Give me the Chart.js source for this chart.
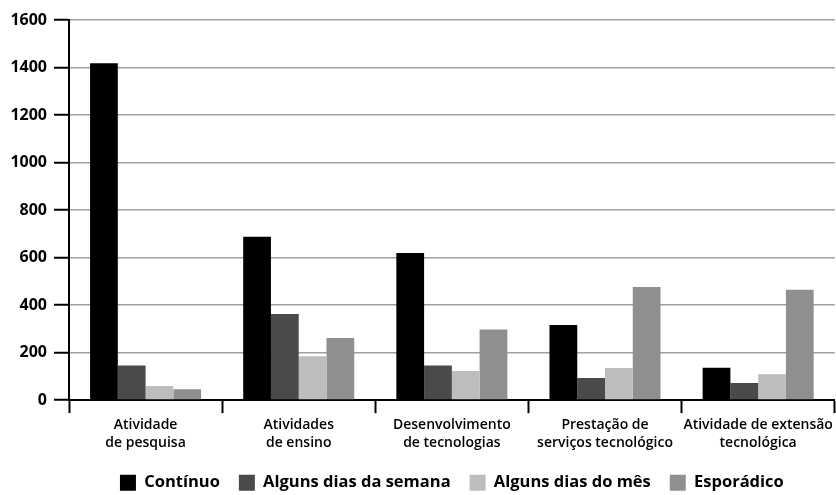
<!DOCTYPE html>
<html>
<head>
<meta charset="utf-8">
<script src="https://cdn.jsdelivr.net/npm/chart.js@4/dist/chart.umd.min.js"></script>
<style>
    html, body { margin: 0; padding: 0; background: #fff; }
    #box { width: 836px; height: 495px; }
</style>
</head>
<body>
<div id="box"><canvas id="bar_chart"></canvas></div>
<script>
var categorias = [
    ["Atividade", "de pesquisa"],
    ["Atividades", "de ensino"],
    ["Desenvolvimento", "de tecnologias"],
    ["Prestação de", "serviços tecnológico"],
    ["Atividade de extensão", "tecnológica"]
];
var continuo = [1418, 688, 619, 316, 136];
var diasSemana = [146, 362, 146, 93, 72];
var diasMes = [59, 185, 123, 135, 109];
var esporadico = [46, 261, 297, 476, 465];
var yTicks = [0, 200, 400, 600, 800, 1000, 1200, 1400, 1600];

function getChartJs() {
    var config = {
        type: 'bar',
        data: {
            labels: categorias,
            datasets: [{
                label: "Contínuo",
                data: continuo,
                backgroundColor: '#000000'
            }, {
                label: "Alguns dias da semana",
                data: diasSemana,
                backgroundColor: '#4a4a4a'
            }, {
                label: "Alguns dias do mês",
                data: diasMes,
                backgroundColor: '#bdbdbd'
            }, {
                label: "Esporádico",
                data: esporadico,
                backgroundColor: '#8f8f8f'
            }]
        },
        options: {
            responsive: true,
            maintainAspectRatio: false,
            animation: false,
            layout: {
                padding: { left: 0, right: 1, top: 20, bottom: -6 }
            },
            datasets: {
                bar: { barPercentage: 1, categoryPercentage: 0.725 }
            },
            plugins: {
                tooltip: { enabled: false },
                legend: {
                    position: 'bottom',
                    fullSize: false,
                    labels: {
                        boxWidth: 16,
                        boxHeight: 16,
                        padding: 19,
                        color: '#000',
                        font: { family: 'Open Sans', size: 16.5, weight: 'bold' }
                    }
                }
            },
            scales: {
                x: {
                    border: { color: '#000', width: 2 },
                    grid: {
                        offset: true,
                        drawOnChartArea: true,
                        tickLength: 13,
                        tickColor: '#000',
                        tickWidth: 2,
                        color: function (ctx) {
                            return ctx.index === categorias.length ? '#a0a0a0' : 'rgba(0,0,0,0)';
                        }
                    },
                    ticks: {
                        color: '#000',
                        padding: 3,
                        maxRotation: 0,
                        autoSkip: false,
                        font: { family: 'Open Sans', size: 14, weight: '600', lineHeight: 1.3 }
                    }
                },
                y: {
                    min: yTicks[0],
                    max: yTicks[yTicks.length - 1],
                    afterFit: function (scale) {
                        scale.width = 69;
                    },
                    border: { color: '#000', width: 2 },
                    grid: {
                        color: '#a0a0a0',
                        lineWidth: 1.5,
                        tickLength: 15,
                        tickColor: '#000',
                        tickWidth: 2
                    },
                    ticks: {
                        stepSize: yTicks[1] - yTicks[0],
                        color: '#000',
                        padding: 7,
                        font: { family: 'Open Sans', size: 16, weight: 'bold' },
                        callback: function (value) {
                            return String(value);
                        }
                    }
                }
            }
        }
    };
    return config;
}

new Chart(document.getElementById("bar_chart").getContext("2d"), getChartJs());
</script>
</body>
</html>
